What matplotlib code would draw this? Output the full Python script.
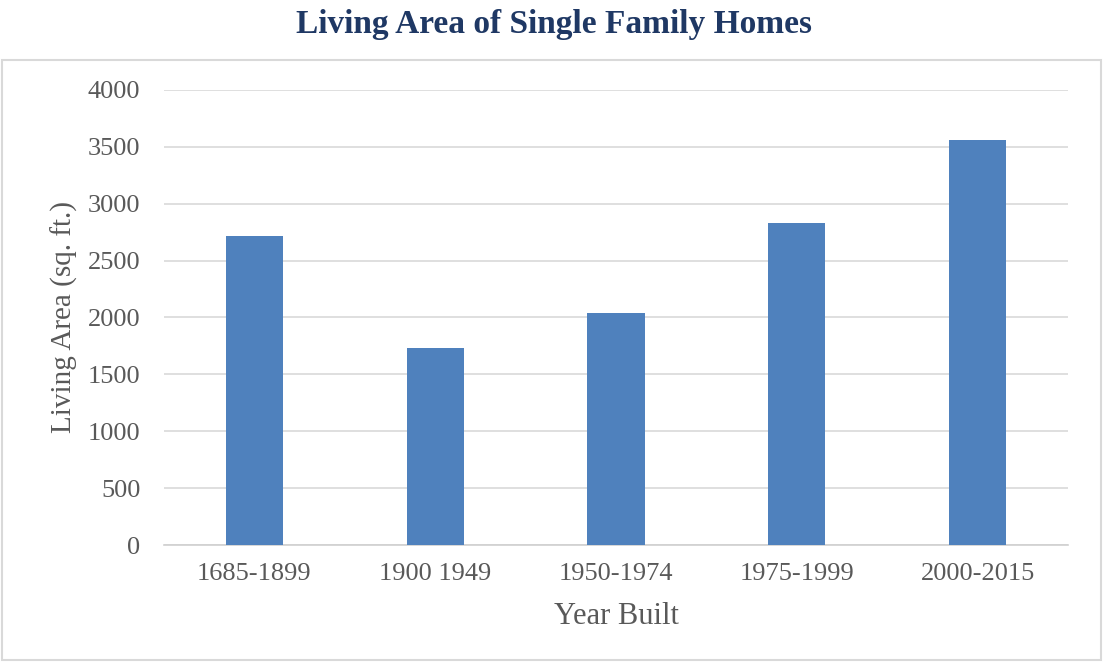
"""
Living area of single family homes by year built - bar chart.
"""

import matplotlib
matplotlib.use("Agg")
from matplotlib import pyplot as plt
from matplotlib.patches import Rectangle

# Data
periods = ["1685-1899", "1900 1949", "1950-1974", "1975-1999", "2000-2015"]
living_area = [2715, 1732, 2037, 2834, 3560]
yticks = [0, 500, 1000, 1500, 2000, 2500, 3000, 3500, 4000]

plt.rcParams['font.family'] = ['Liberation Serif', 'DejaVu Serif']

fig = plt.figure(figsize=(11.03, 6.64), dpi=100)
ax = fig.add_axes([0.1487, 0.1792, 0.8195, 0.6853])

ax.bar(range(len(periods)), living_area, width=0.316, color="#4F81BD", zorder=3)

ax.set_xlim(-0.5, len(periods) - 0.5)
ax.set_ylim(0, 4000)
ax.set_yticks(yticks)
ax.set_xticks(range(len(periods)))
ax.set_xticklabels(periods)

ax.grid(axis='y', color="#D9D9D9", linewidth=1.2, zorder=0)
for side in ['top', 'right', 'left']:
    ax.spines[side].set_visible(False)
ax.spines['bottom'].set_color("#D0D0D0")
ax.spines['bottom'].set_linewidth(1.2)

ax.tick_params(axis='both', length=0, labelsize=19, labelcolor="#595959")
ax.tick_params(axis='y', pad=17)
ax.tick_params(axis='x', pad=13)

ax.set_xlabel("Year Built", fontsize=22, color="#595959", labelpad=12)
ax.set_ylabel("Living Area (sq. ft.)", fontsize=21, color="#595959", labelpad=7)

fig.text(0.502, 0.963, "Living Area of Single Family Homes", ha='center', va='center',
         fontsize=24, fontweight='bold', color="#1F3864")

# light frame around the chart area
fig.patches.append(Rectangle((0.002, 0.006), 0.996, 0.903, transform=fig.transFigure,
                             fill=False, edgecolor="#D9D9D9", linewidth=1.5))

plt.savefig("out.png", dpi=100)
plt.close()
